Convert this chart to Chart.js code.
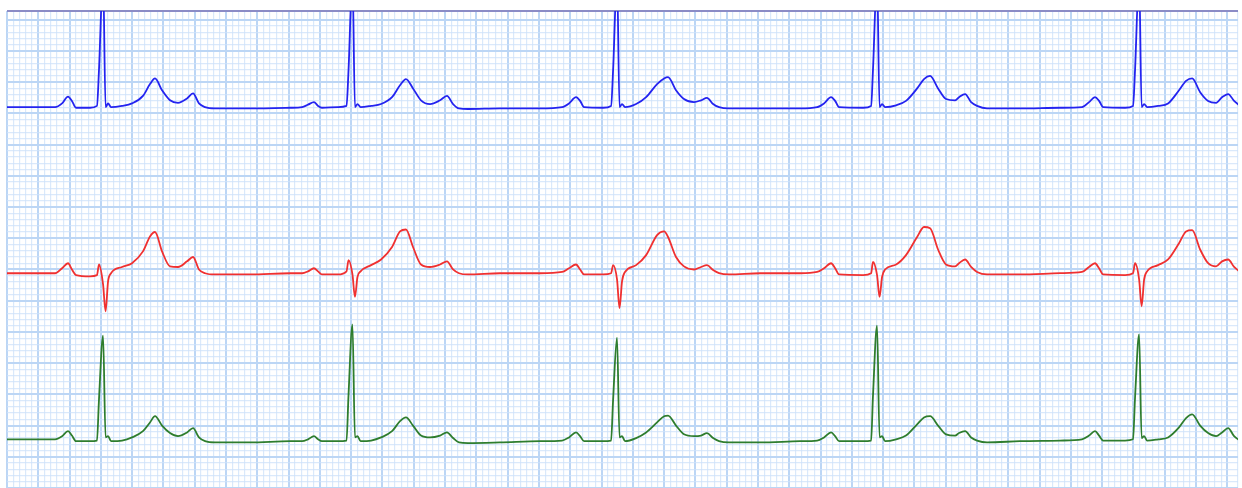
<!DOCTYPE html>
<html>
<head>
<meta charset="utf-8">
<script src="https://cdn.jsdelivr.net/npm/chart.js@4/dist/chart.umd.min.js"></script>
<style>
  html, body { margin: 0; padding: 0; background: #ffffff; }
  #wrap { width: 1242px; height: 488px; position: relative; }
</style>
</head>
<body>
<div id="wrap"><canvas id="c"></canvas></div>
<script>
// Sample times (ms) shared by the three traces
const sampleTimesMs = [
  0,211,307,352,390,415,441,531,575,588,614,630,646,665,735,799,869,914,946,991,1042,1093,1151,1189,1227,1266,1330,
  1553,1809,1886,1924,1962,1988,2013,2116,2170,2183,2208,2224,2240,2260,2327,2391,2461,2512,2550,2595,2646,2704,2768,2812,2851,2889,2947,
  3151,3407,3548,3592,3637,3663,3688,3810,3861,3874,3899,3915,3931,3950,4021,4085,4155,4200,4225,4276,4327,4391,4436,4474,4513,4551,4615,
  4813,5069,5178,5222,5267,5293,5318,5472,5523,5535,5561,5577,5593,5612,5683,5746,5817,5861,5900,5951,6002,6060,6085,6124,6162,6200,6264,
  6475,6731,6871,6916,6954,6980,7006,7146,7197,7210,7236,7252,7268,7287,7357,7421,7491,7536,7575,7626,7677,7728,7766,7805,7843,7881
];

// Blue trace (mV, relative to its baseline)
const blueTraceMv = [
  0,0,0,0.06,0.17,0.10,-0.01,-0.01,0.02,0.6,2.1,0,0.06,0,0.02,0.06,0.18,0.37,0.46,0.27,0.11,0.07,0.14,0.22,0.06,0,-0.02,
  -0.02,-0.01,0,0.04,0.08,0.02,-0.01,0,0.02,0.6,2.1,0,0.05,0,0.02,0.05,0.16,0.35,0.45,0.30,0.11,0.05,0.11,0.18,0.05,-0.02,-0.03,
  -0.02,-0.02,0,0.06,0.16,0.10,0,-0.01,0.02,0.6,2.1,0,0.05,0,0.05,0.16,0.37,0.46,0.48,0.27,0.13,0.08,0.11,0.15,0.05,0,-0.02,
  -0.02,-0.02,0,0.06,0.16,0.10,0,-0.01,0.02,0.6,2.1,0,0.05,0,0.03,0.10,0.30,0.45,0.50,0.30,0.13,0.11,0.16,0.21,0.08,0.02,-0.02,
  -0.02,-0.01,0,0.08,0.16,0.10,0,-0.01,0.02,0.6,2.1,0,0.05,0,0.02,0.06,0.27,0.42,0.46,0.24,0.10,0.07,0.16,0.21,0.10,0.02
];

// Red trace (mV, relative to its baseline)
const redTraceMv = [
  0,0,0,0.08,0.16,0.06,-0.03,-0.05,-0.03,0.14,-0.18,-0.61,-0.13,0,0.10,0.16,0.35,0.59,0.66,0.35,0.11,0.10,0.19,0.26,0.06,0,-0.02,
  -0.02,0,0,0.03,0.08,0.03,-0.02,-0.02,0.03,0.21,-0.02,-0.38,-0.06,0.03,0.13,0.22,0.42,0.67,0.70,0.42,0.14,0.10,0.14,0.19,0.06,0,-0.02,
  0,0,0.02,0.08,0.14,0.06,-0.02,-0.02,0,0.13,-0.10,-0.56,-0.13,0.02,0.13,0.29,0.61,0.67,0.58,0.26,0.11,0.06,0.10,0.13,0.05,0,-0.02,
  0,0,0.02,0.08,0.16,0.08,-0.02,-0.03,0,0.18,-0.03,-0.38,-0.06,0.06,0.14,0.29,0.58,0.74,0.72,0.38,0.14,0.11,0.16,0.22,0.10,0.02,-0.02,
  -0.02,0,0.02,0.10,0.16,0.08,-0.02,-0.03,0,0.16,-0.10,-0.53,-0.10,0.03,0.13,0.22,0.48,0.67,0.69,0.38,0.16,0.11,0.19,0.22,0.10,0.02
];

// Green trace (mV, relative to its baseline)
const greenTraceMv = [
  0,0,0,0.05,0.13,0.06,-0.03,-0.03,-0.02,0.64,1.66,0.03,0.05,-0.03,-0.02,0.03,0.13,0.27,0.37,0.22,0.10,0.05,0.11,0.18,0.03,-0.03,-0.05,
  -0.05,-0.03,-0.03,0,0.05,0,-0.03,-0.03,-0.02,0.72,1.84,0.03,0.05,-0.03,-0.02,0.03,0.13,0.29,0.35,0.22,0.06,0.03,0.06,0.11,0.02,-0.05,-0.06,
  -0.05,-0.03,-0.02,0.03,0.11,0.05,-0.03,-0.03,-0.02,0.64,1.63,0.03,0.05,-0.03,0.02,0.11,0.27,0.37,0.38,0.22,0.08,0.05,0.06,0.10,0.02,-0.03,-0.05,
  -0.05,-0.03,-0.02,0.03,0.11,0.05,-0.03,-0.03,-0.02,0.70,1.82,0.03,0.05,-0.03,0,0.06,0.24,0.35,0.37,0.22,0.08,0.06,0.10,0.13,0.03,-0.02,-0.05,
  -0.03,-0.02,0,0.06,0.13,0.06,-0.02,-0.02,0,0.67,1.68,0.02,0.05,-0.02,0,0.03,0.19,0.34,0.40,0.22,0.10,0.05,0.11,0.18,0.05,-0.02
];

// Baseline offsets of each trace on the paper (mV)
const traceOffsetsMv = [6.10, 3.44, 0.78];
const traceColors = ['#2323f0', '#f03030', '#2e7d2e'];

const X_MAX = 7868, Y_MAX = 7.64;

function toPoints(values, offset) {
  return sampleTimesMs.map((t, i) => ({ x: t, y: values[i] + offset }));
}

const traces = [blueTraceMv, redTraceMv, greenTraceMv];
const datasets = traces.map((vals, k) => ({
  data: toPoints(vals, traceOffsetsMv[k]),
  borderColor: traceColors[k],
  borderWidth: 1.8,
  pointRadius: 0,
  fill: false,
  cubicInterpolationMode: 'monotone'
}));

const MAJOR = '#bcd6f5', MINOR = 'rgba(205,225,250,0.75)';

new Chart(document.getElementById('c'), {
  type: 'line',
  data: { datasets },
  options: {
    responsive: true,
    maintainAspectRatio: false,
    animation: false,
    events: [],
    layout: { padding: { left: 7, top: 11, right: 4, bottom: 0 } },
    plugins: { legend: { display: false }, tooltip: { enabled: false } },
    scales: {
      x: {
        type: 'linear', min: 0, max: X_MAX,
        border: { display: false },
        ticks: { display: false, stepSize: 40, autoSkip: false },
        grid: {
          drawTicks: false,
          color: c => (Math.round(c.tick.value) % 200 === 0 ? MAJOR : MINOR),
          lineWidth: c => (Math.round(c.tick.value) % 200 === 0 ? 2 : 1.2)
        }
      },
      y: {
        type: 'linear', min: 0, max: Y_MAX,
        border: { display: false },
        ticks: { display: false, stepSize: 0.1, autoSkip: false },
        grid: {
          drawTicks: false,
          color: c => {
            const v = c.tick.value;
            if (Math.abs(v - Y_MAX) < 1e-6) return '#8c8cc6';
            return Math.round(v * 10) % 5 === 0 ? MAJOR : MINOR;
          },
          lineWidth: c => {
            const v = c.tick.value;
            if (Math.abs(v - Y_MAX) < 1e-6) return 2;
            return Math.round(v * 10) % 5 === 0 ? 2 : 1.2;
          }
        }
      }
    }
  }
});
</script>
</body>
</html>
